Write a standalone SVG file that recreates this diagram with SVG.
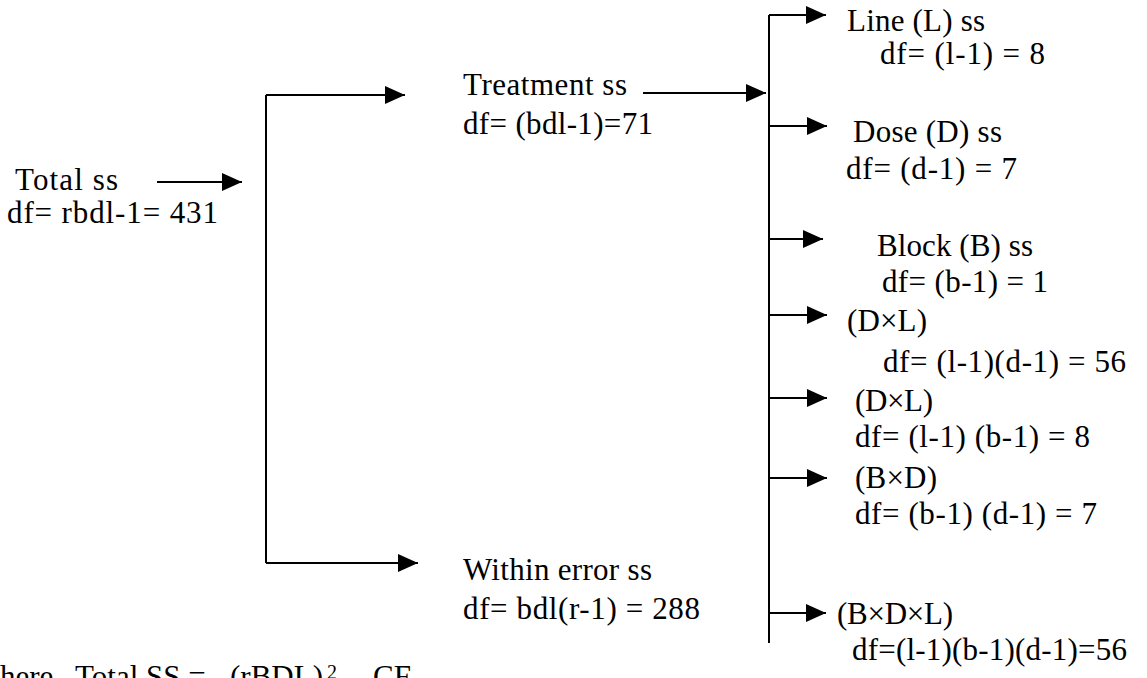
<svg xmlns="http://www.w3.org/2000/svg" width="1147" height="678" viewBox="0 0 1147 678">
<style>
.t{font-family:"Liberation Serif","Times New Roman",serif;font-size:31px;fill:#000}
.c{stroke:#000;stroke-width:2;fill:none}
.a{marker-end:url(#ah)}
</style>
<defs>
<marker id="ah" markerUnits="userSpaceOnUse" markerWidth="20" markerHeight="18" refX="20" refY="9" orient="auto"><path d="M0,0 L20,9 L0,18 z" fill="#000"/></marker>
</defs>
<rect width="1147" height="678" fill="#fff"/>
<g id="connectors">
<path class="c a" d="M157,182 H242"/>
<path class="c" d="M266,95 V563"/>
<path class="c a" d="M266,95 H405"/>
<path class="c a" d="M266,563 H418"/>
<path class="c a" d="M643,93 H766"/>
<path class="c" d="M769,15 V643"/>
<path class="c a" d="M769,15 H826"/>
<path class="c a" d="M769,126 H827"/>
<path class="c a" d="M769,239 H823"/>
<path class="c a" d="M769,315 H827"/>
<path class="c a" d="M769,398 H827"/>
<path class="c a" d="M769,478 H827"/>
<path class="c a" d="M769,613 H826"/>
</g>
<g id="total"><text class="t" x="15" y="190" textLength="103">Total ss</text><text class="t" x="7" y="223" textLength="211">df= rbdl-1= 431</text></g>
<g id="treatment"><text class="t" x="463" y="95" textLength="164">Treatment ss</text><text class="t" x="463" y="134" textLength="190">df= (bdl-1)=71</text></g>
<g id="within"><text class="t" x="463" y="580" textLength="189">Within error ss</text><text class="t" x="463" y="619" textLength="237">df= bdl(r-1) = 288</text></g>
<g id="line"><text class="t" x="847" y="31" textLength="138">Line (L) ss</text><text class="t" x="880" y="64" textLength="165">df= (l-1) = 8</text></g>
<g id="dose"><text class="t" x="853" y="142" textLength="149">Dose (D) ss</text><text class="t" x="846" y="179" textLength="171">df= (d-1) = 7</text></g>
<g id="block"><text class="t" x="877" y="256" textLength="156">Block (B) ss</text><text class="t" x="882" y="292" textLength="166">df= (b-1) = 1</text></g>
<g id="dxl1"><text class="t" x="847" y="331" textLength="80">(D×L)</text><text class="t" x="883" y="372" textLength="243">df= (l-1)(d-1) = 56</text></g>
<g id="dxl2"><text class="t" x="855" y="411" textLength="78">(D×L)</text><text class="t" x="855" y="447" textLength="235">df= (l-1) (b-1) = 8</text></g>
<g id="bxd"><text class="t" x="855" y="488" textLength="82">(B×D)</text><text class="t" x="855" y="524" textLength="242">df= (b-1) (d-1) = 7</text></g>
<g id="bxdxl"><text class="t" x="837" y="624" textLength="116">(B×D×L)</text><text class="t" x="852" y="660" textLength="275">df=(l-1)(b-1)(d-1)=56</text></g>
<g id="note"><text class="t" y="687"><tspan x="0">here</tspan><tspan x="75">Total SS =</tspan><tspan x="230">(rBDL)</tspan><tspan x="327" dy="-8" font-size="20">2</tspan><tspan x="346" dy="8">–</tspan><tspan x="373">CF</tspan></text></g>
</svg>
